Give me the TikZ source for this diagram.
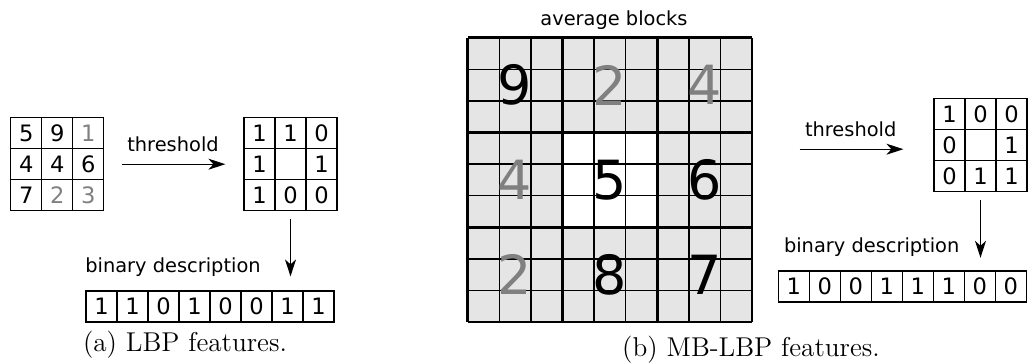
\documentclass[tikz,border=0pt]{standalone}
\usepackage{fontspec}
\newfontfamily\labelfont{DejaVu Sans}
\usetikzlibrary{arrows.meta}
\definecolor{lowgray}{gray}{0.5}
\definecolor{blockgray}{gray}{0.9}
\tikzset{
  cell/.style={draw, minimum size=15.5pt, inner sep=0pt, line width=0.6pt, font=\labelfont\fontsize{11.3}{11}\selectfont},
  txt/.style={font=\labelfont\fontsize{9.7}{10}\selectfont},
  bigdigit/.style={inner sep=0pt, font=\labelfont\fontsize{27}{27}\selectfont},
  subcap/.style={anchor=base, font=\fontsize{13.6}{14}\selectfont},
  arr/.style={-{Stealth[length=8.5pt,width=5.5pt,inset=2.5pt]}, line width=0.6pt}
}
\begin{document}
\begin{tikzpicture}[x=0.5pt,y=-0.5pt]
  \useasboundingbox (0,0) rectangle (1029,363);
  % (a) LBP: input pixels
  \foreach \row [count=\r from 0] in {{5,9,1},{4,4,6},{7,2,3}}{
    \foreach \v [count=\c from 0] in \row {
      \ifnum\v<4 \def\col{lowgray}\else\def\col{black}\fi
      \node[cell, text=\col] (in-\r-\c) at ({26.2+31*\c},{133.2+31*\r}) {\v};
    }
  }
  % thresholded neighbours
  \foreach \row [count=\r from 0] in {{1,1,0},{1,{},1},{1,0,0}}{
    \foreach \v [count=\c from 0] in \row
      \node[cell] (out-\r-\c) at ({259.5+31*\c},{133.2+31*\r}) {\v};
  }
  \foreach \v [count=\k from 0] in {1,1,0,1,0,0,1,1}
    \node[cell] (bita-\k) at ({101.5+31*\k},306.5) {\v};
  \draw[arr] ([xshift=9pt]in-1-2.east) -- ([xshift=-9pt]out-1-0.west);
  \node[txt] (thra) at (173,144) {threshold};
  \draw[arr] ([yshift=-4pt]out-2-1.south) -- ([yshift=7pt]out-2-1.south |- bita-0.north);
  \node[txt] (bina) at (173,267) {binary description};
  \node[subcap] (capa) at (185,351.7) {(a) LBP features.};

  % (b) MB-LBP: blocks of cells
  \fill[blockgray] (467.7,37.7) rectangle (752.1,322.1);
  \fill[white] (562.5,132.5) rectangle (657.3,227.3);
  \node[minimum size=142.2pt, inner sep=0pt] (mbgrid) at (609.9,179.9) {};
  \foreach \i in {1,2,4,5,7,8}{
    \draw[line width=0.75pt] ({467.7+31.6*\i},37.7) -- ({467.7+31.6*\i},322.1);
    \draw[line width=0.75pt] (467.7,{37.7+31.6*\i}) -- (752.1,{37.7+31.6*\i});
  }
  \foreach \i in {0,3,6,9}{
    \draw[line width=1.3pt] ({467.7+31.6*\i},37.7) -- ({467.7+31.6*\i},322.1);
    \draw[line width=1.3pt] (467.7,{37.7+31.6*\i}) -- (752.1,{37.7+31.6*\i});
  }
  \foreach \row [count=\r from 0] in {{9,2,4},{4,5,6},{2,8,7}}{
    \foreach \v [count=\c from 0] in \row {
      \ifnum\v<5 \def\col{lowgray}\else\def\col{black}\fi
      \node[bigdigit, text=\col] (blk-\r-\c) at ({515.1+94.8*\c},{85.1+94.8*\r}) {\v};
    }
  }
  \node[txt] (avg) at (614,20) {average blocks};
  % thresholded blocks
  \foreach \row [count=\r from 0] in {{1,0,0},{0,{},1},{0,1,1}}{
    \foreach \v [count=\c from 0] in \row
      \node[cell] (rout-\r-\c) at ({949.5+31*\c},{113.8+31*\r}) {\v};
  }
  \foreach \v [count=\k from 0] in {1,0,0,1,1,1,0,0}
    \node[cell] (bitb-\k) at ({793.8+31*\k},286.5) {\v};
  \draw[arr] ([xshift=23.5pt,yshift=-2.2pt]mbgrid.east |- rout-1-0.west) -- ([xshift=-15pt,yshift=-2.2pt]rout-1-0.west);
  \node[txt] (thrb) at (850.7,129.3) {threshold};
  \draw[arr] ([yshift=-4.3pt]rout-2-1.south) -- ([yshift=6.3pt]rout-2-1.south |- bitb-0.north);
  \node[txt] (binb) at (871.7,246.7) {binary description};
  \node[subcap] (capb) at (751,357) {(b) MB-LBP features.};
\end{tikzpicture}
\end{document}
